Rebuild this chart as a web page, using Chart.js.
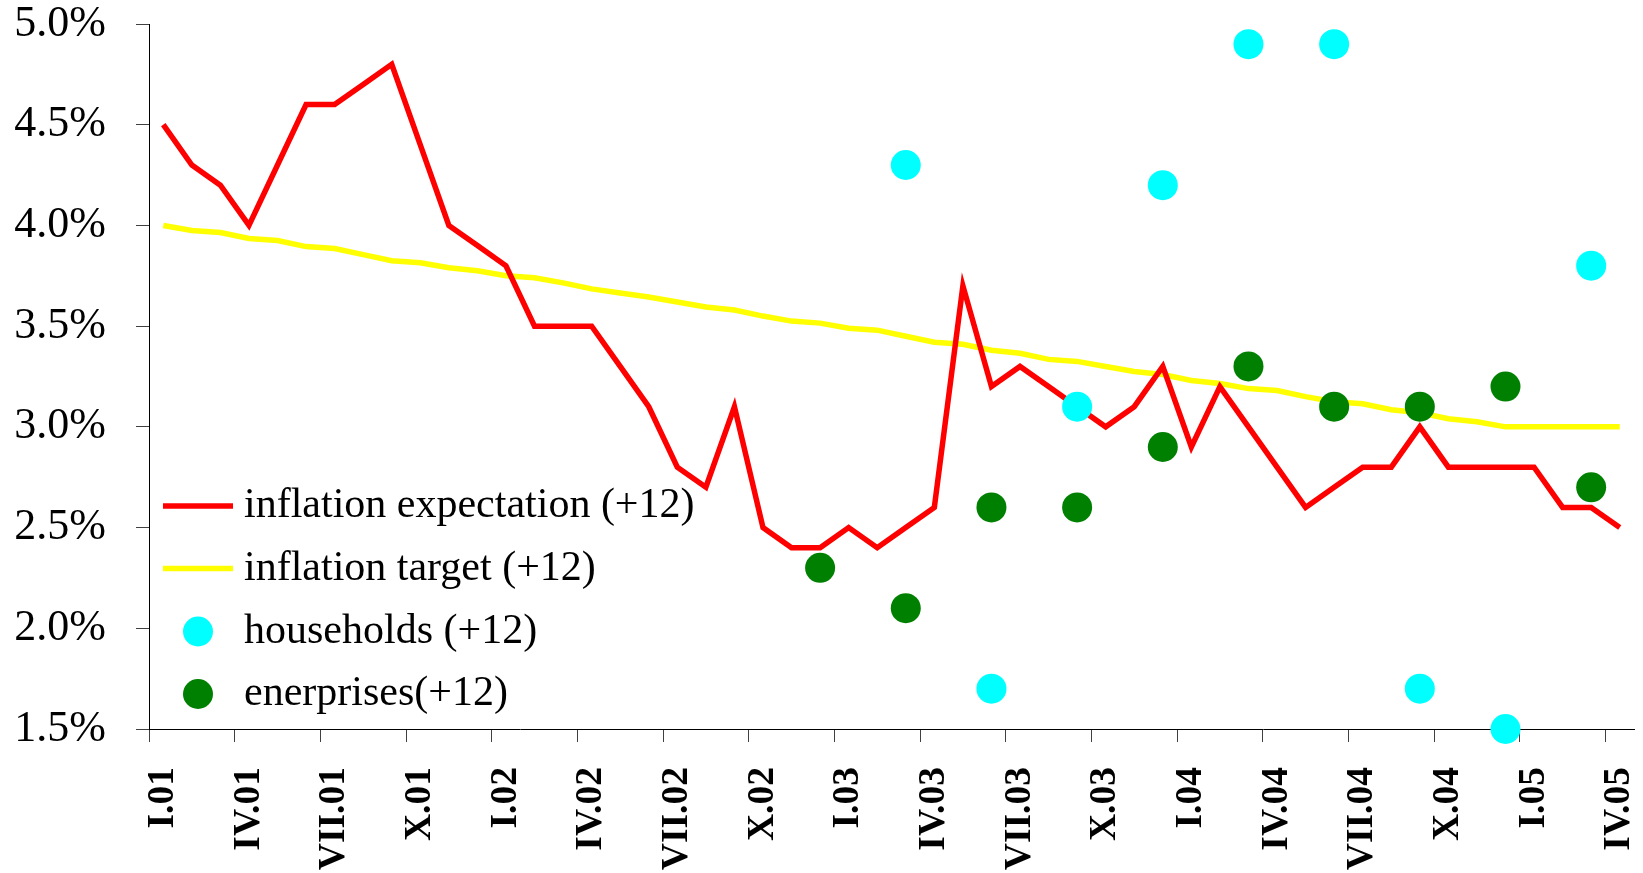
<!DOCTYPE html>
<html>
<head>
<meta charset="utf-8">
<script src="https://cdn.jsdelivr.net/npm/chart.js@4.4.1/dist/chart.umd.min.js"></script>
<style>
  html, body { margin: 0; padding: 0; background: #ffffff; }
  #wrap { width: 1643px; height: 873px; }
</style>
</head>
<body>
<div id="wrap"><canvas id="c" width="1643" height="873"></canvas></div>
<script>
// ---- categories (months I.01 .. IV.05) ----
const months = [
  'I.01','II.01','III.01','IV.01','V.01','VI.01','VII.01','VIII.01','IX.01','X.01','XI.01','XII.01',
  'I.02','II.02','III.02','IV.02','V.02','VI.02','VII.02','VIII.02','IX.02','X.02','XI.02','XII.02',
  'I.03','II.03','III.03','IV.03','V.03','VI.03','VII.03','VIII.03','IX.03','X.03','XI.03','XII.03',
  'I.04','II.04','III.04','IV.04','V.04','VI.04','VII.04','VIII.04','IX.04','X.04','XI.04','XII.04',
  'I.05','II.05','III.05','IV.05'
];

// ---- inflation expectation (+12), % ----
const expectation = [
  4.5,4.3,4.2,4.0,4.3,4.6,4.6,4.7,4.8,4.4,4.0,3.9,
  3.8,3.5,3.5,3.5,3.3,3.1,2.8,2.7,3.1,2.5,2.4,2.4,
  2.5,2.4,2.5,2.6,3.7,3.2,3.3,3.2,3.1,3.0,3.1,3.3,
  2.9,3.2,3.0,2.8,2.6,2.7,2.8,2.8,3.0,2.8,2.8,2.8,
  2.8,2.6,2.6,2.5
];

// ---- inflation target (+12), % ----
const target = [
  4.00,3.975,3.965,3.935,3.925,3.895,3.885,3.855,3.825,3.815,3.79,3.775,
  3.75,3.74,3.715,3.685,3.665,3.645,3.62,3.595,3.58,3.55,3.525,3.515,
  3.49,3.48,3.45,3.42,3.41,3.38,3.365,3.335,3.325,3.30,3.275,3.26,
  3.23,3.215,3.19,3.18,3.15,3.125,3.115,3.085,3.07,3.04,3.025,3.00,
  3.00,3.00,3.00,3.00
];

// ---- quarterly surveys ----
const surveyMonths = ['XII.02','III.03','VI.03','IX.03','XII.03','III.04','VI.04','IX.04','XII.04','III.05'];
const households  = [null, 4.3, 1.7, 3.1, 4.2, 4.9, 4.9, 1.7, 1.5, 3.8];
const enterprises = [2.3, 2.1, 2.6, 2.6, 2.9, 3.3, 3.1, 3.1, 3.2, 2.7];

// ---- series names ----
const seriesNames = ['inflation expectation (+12)', 'inflation target (+12)', 'households (+12)', 'enerprises(+12)'];

const toPoints = (vals) => surveyMonths.map((m, i) => ({ x: m, y: vals[i] }));

const FONT = "'Liberation Serif', 'Times New Roman', serif";
Chart.defaults.font.family = FONT;
Chart.defaults.color = '#000000';

const insideLegend = {
  id: 'insideLegend',
  afterDraw(chart) {
    const ctx = chart.ctx;
    const rowY = [506, 568.5, 631.5, 694];
    const order = [2, 3, 0, 1]; // dataset indexes in legend order
    const symX0 = 163, symX1 = 233, textX = 244;
    ctx.save();
    order.forEach((di, r) => {
      const ds = chart.data.datasets[di];
      const y = rowY[r];
      if (ds.showLine === false) {
        ctx.beginPath();
        ctx.fillStyle = ds.pointBackgroundColor;
        ctx.arc((symX0 + symX1) / 2, y, 15, 0, Math.PI * 2);
        ctx.fill();
      } else {
        ctx.beginPath();
        ctx.strokeStyle = ds.borderColor;
        ctx.lineWidth = 5.5;
        ctx.moveTo(symX0, y);
        ctx.lineTo(symX1, y);
        ctx.stroke();
      }
      ctx.fillStyle = '#000000';
      ctx.font = "42px " + FONT;
      ctx.textBaseline = 'middle';
      ctx.textAlign = 'left';
      ctx.fillText(ds.label, textX, y);
    });
    ctx.restore();
  }
};

new Chart(document.getElementById('c'), {
  type: 'line',
  data: {
    labels: months,
    datasets: [
      {
        label: seriesNames[2],
        data: toPoints(households),
        showLine: false,
        pointRadius: 15,
        pointHoverRadius: 15,
        pointBorderWidth: 0,
        pointBackgroundColor: '#00FFFF',
        borderColor: '#00FFFF',
        clip: false,
        order: 0
      },
      {
        label: seriesNames[3],
        data: toPoints(enterprises),
        showLine: false,
        pointRadius: 15,
        pointHoverRadius: 15,
        pointBorderWidth: 0,
        pointBackgroundColor: '#008000',
        borderColor: '#008000',
        clip: false,
        order: 0
      },
      {
        label: seriesNames[0],
        data: expectation,
        borderColor: '#FF0000',
        borderWidth: 5.5,
        pointRadius: 0,
        tension: 0,
        fill: false,
        order: 1
      },
      {
        label: seriesNames[1],
        data: target,
        borderColor: '#FFFF00',
        borderWidth: 5.5,
        pointRadius: 0,
        tension: 0,
        fill: false,
        order: 2
      }
    ]
  },
  options: {
    responsive: false,
    animation: false,
    devicePixelRatio: 1,
    layout: { autoPadding: false, padding: { top: 24, right: 9, left: 0, bottom: 0 } },
    plugins: {
      legend: { display: false },
      tooltip: { enabled: false },
      title: { display: false }
    },
    scales: {
      x: {
        type: 'category',
        offset: true,
        border: { display: true, color: '#000000', width: 1 },
        grid: {
          display: true,
          offset: true,
          drawOnChartArea: false,
          drawTicks: true,
          tickLength: 13,
          tickWidth: 1,
          tickColor: (c) => (c.type === 'tick' && c.index % 3 === 0) ? '#404040' : 'rgba(0,0,0,0)'
        },
        ticks: {
          autoSkip: false,
          minRotation: 90,
          maxRotation: 90,
          padding: 25,
          color: '#000000',
          font: { family: FONT, size: 37.5, weight: 'bold' },
          callback: function (val, index) {
            return index % 3 === 0 ? this.getLabelForValue(val) : '';
          }
        },
        afterFit: (s) => {
          s.height = 144; s.paddingLeft = 0; s.paddingRight = 0;
          if (s._margins) { s._margins.left = 0; s._margins.right = 0; }
        }
      },
      y: {
        min: 1.5,
        max: 5.0,
        border: { display: true, color: '#000000', width: 1 },
        grid: {
          display: true,
          drawOnChartArea: false,
          drawTicks: true,
          tickLength: 13,
          tickColor: '#404040'
        },
        ticks: {
          stepSize: 0.5,
          padding: 30,
          color: '#000000',
          font: { family: FONT, size: 44 },
          callback: (v) => Number(v).toFixed(1) + '%'
        },
        afterFit: (s) => {
          s.width = 149; s.paddingTop = 0; s.paddingBottom = 0;
          if (s._margins) { s._margins.top = 0; s._margins.bottom = 0; }
        }
      }
    }
  },
  plugins: [insideLegend]
});
</script>
</body>
</html>
